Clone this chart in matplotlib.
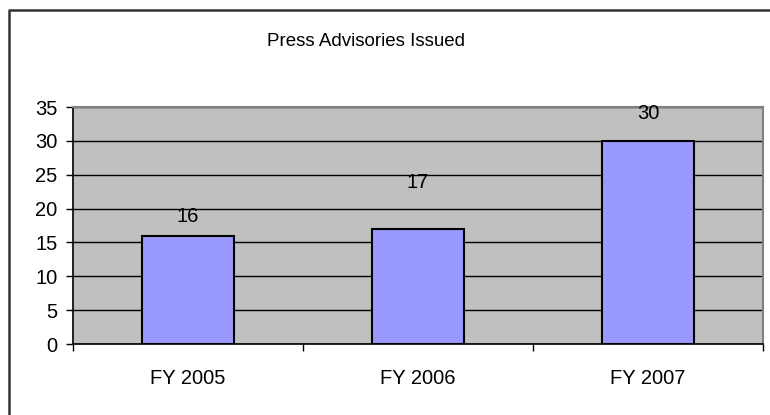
import matplotlib.pyplot as plt
from matplotlib.lines import Line2D

plt.rcParams['font.family'] = ['Liberation Sans', 'DejaVu Sans']

categories = ['FY 2005', 'FY 2006', 'FY 2007']
advisories = [16, 17, 30]
label_lift = [2.8, 6.8, 4.1]  # excel put the labels at odd heights

fig = plt.figure(figsize=(7.7, 4.15), dpi=100)
ax = fig.add_axes([73/770, 1 - 344/415, (763-73)/770, (344-107)/415])

ax.set_facecolor('#C0C0C0')
x = range(len(categories))
ax.bar(x, advisories, width=0.40, color='#9999FF', edgecolor='black', linewidth=1.5, zorder=3)
for i, v in enumerate(advisories):
    ax.text(i, v + label_lift[i], str(v), ha='center', va='center', fontsize=14.5, zorder=4)

ax.set_xlim(-0.5, 2.5)
ax.set_ylim(0, 35)
ax.set_yticks(range(0, 36, 5))
ax.yaxis.grid(True, color='black', linewidth=1, zorder=1)
ax.set_axisbelow(True)
ax.set_xticks(list(x))
ax.set_xticklabels(categories)
ax.set_xticks([-0.5, 0.5, 1.5, 2.5], minor=True)
ax.tick_params(axis='x', which='major', length=0, pad=18, labelsize=14.5)
ax.tick_params(axis='x', which='minor', length=5, width=1, color='black')
ax.tick_params(axis='y', length=5, width=1, labelsize=14.5, pad=6)

for s in ['top', 'right']:
    ax.spines[s].set_color('#808080')
    ax.spines[s].set_linewidth(1.5)
for s in ['left', 'bottom']:
    ax.spines[s].set_color('black')
    ax.spines[s].set_linewidth(1.2)

fig.text(366/770, 1 - 42/415, 'Press Advisories Issued', ha='center', va='center', fontsize=13.5)

# chart frame, only the left and top edges are in the crop
fig.add_artist(Line2D([9/770, 9/770, 1.0], [0.0, 1 - 10/415, 1 - 10/415],
                      transform=fig.transFigure, color='#333333', linewidth=1.8))

plt.savefig('out.png', dpi=100)
plt.close()
